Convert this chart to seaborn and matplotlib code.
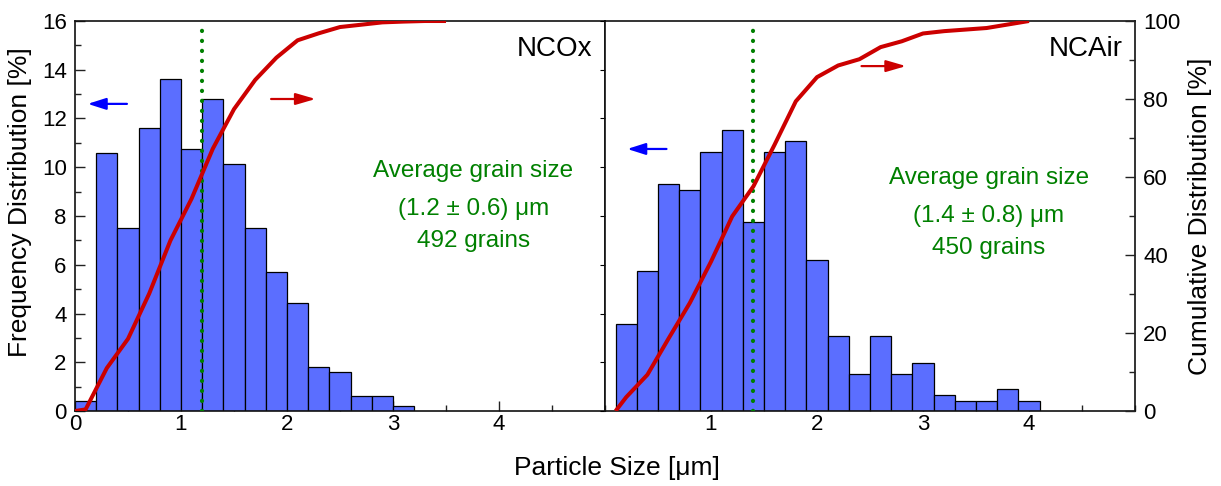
import matplotlib
matplotlib.use("Agg")
import matplotlib.pyplot as plt
from matplotlib.ticker import MultipleLocator
import seaborn as sns

# ---- NCOx: 0.2 um bins starting at 0 ----
ncox_size = [0.1, 0.3, 0.5, 0.7, 0.9, 1.1, 1.3, 1.5, 1.7, 1.9, 2.1, 2.3, 2.5, 2.7, 2.9, 3.1]
ncox_freq = [0.4, 10.6, 7.5, 11.6, 13.6, 10.75, 12.8, 10.15, 7.5, 5.7, 4.45, 1.8, 1.6, 0.6, 0.6, 0.2]
ncox_cum_x = [0.0, 0.1, 0.3, 0.5, 0.7, 0.9, 1.1, 1.3, 1.5, 1.7, 1.9, 2.1, 2.3, 2.5, 2.7,
              2.9, 3.1, 3.3, 3.5]
ncox_cum = [0, 0.4, 11.0, 18.5, 30.1, 43.7, 54.45, 67.25, 77.4, 84.9, 90.6, 95.05, 96.85,
            98.45, 99.05, 99.65, 99.85, 100, 100]
ncox_mean = 1.2

# ---- NCAir: 0.2 um bins starting at 0.1 ----
ncair_size = [0.2, 0.4, 0.6, 0.8, 1.0, 1.2, 1.4, 1.6, 1.8, 2.0, 2.2, 2.4, 2.6, 2.8, 3.0,
              3.2, 3.4, 3.6, 3.8, 4.0]
ncair_freq = [3.55, 5.75, 9.32, 9.08, 10.64, 11.53, 7.76, 10.64, 11.08, 6.20, 3.09, 1.53,
              3.09, 1.53, 1.98, 0.64, 0.41, 0.41, 0.89, 0.41]
ncair_cum_x = [0.1, 0.2, 0.4, 0.6, 0.8, 1.0, 1.2, 1.4, 1.6, 1.8, 2.0, 2.2, 2.4, 2.6, 2.8,
               3.0, 3.2, 3.4, 3.6, 3.8, 4.0]
ncair_cum = [0, 3.55, 9.3, 18.6, 27.7, 38.3, 49.9, 57.6, 68.3, 79.4, 85.6, 88.6, 90.2,
             93.3, 94.8, 96.8, 97.4, 97.8, 98.2, 99.1, 100]
ncair_mean = 1.4

x_ticks_left = [0, 1, 2, 3, 4]
x_ticks_right = [1, 2, 3, 4]

sns.set_style("ticks")
plt.rcParams["font.family"] = ["Liberation Sans", "DejaVu Sans"]
for key in ("text.color", "axes.labelcolor", "xtick.color", "ytick.color",
            "xtick.labelcolor", "ytick.labelcolor"):
    plt.rcParams[key] = "black"

BAR = "#5B6EFF"
RED = "#CC0000"
GREEN = "#008000"
TICK_FS = 16
LABEL_FS = 19

fig = plt.figure(figsize=(12.21, 4.86), dpi=100)
W, H = 1221, 486
x0, x_mid, x1 = 75, 605, 1135
y_top, y_bot = 21, 411
ax1 = fig.add_axes([x0 / W, 1 - y_bot / H, (x_mid - x0) / W, (y_bot - y_top) / H])
ax2 = fig.add_axes([x_mid / W, 1 - y_bot / H, (x1 - x_mid) / W, (y_bot - y_top) / H])


def panel(ax, size, freq, start, stop, cum_x, cum, mean, name, info, xticks,
          text_x, text_ys, blue_arrow, red_arrow, left_axis):
    sns.histplot(x=size, weights=freq, binwidth=0.2, binrange=(start, stop), ax=ax,
                 color=BAR, edgecolor="black", linewidth=0.9, alpha=1.0, zorder=2)
    ax.set_xlim(0, 5)
    ax.set_ylim(0, 16)
    ax.set_xlabel("")
    ax.set_ylabel("")
    ax.axvline(mean, color=GREEN, lw=3.0, linestyle=(0, (0.05, 2.35)),
               dash_capstyle="round", zorder=4)
    ax.set_xticks(xticks)
    ax.xaxis.set_minor_locator(MultipleLocator(0.5))
    ax.tick_params(axis="x", which="both", direction="in", top=False, bottom=True,
                   labelsize=TICK_FS, pad=2, width=1.0, color="#222222")
    ax.tick_params(axis="x", which="major", length=7)
    ax.tick_params(axis="x", which="minor", length=4)
    if left_axis:
        ax.set_yticks(range(0, 17, 2))
        ax.yaxis.set_minor_locator(MultipleLocator(1))
        ax.tick_params(axis="y", which="both", direction="in", left=True, right=False,
                       labelsize=TICK_FS, pad=6, width=1.0, color="#222222")
        ax.tick_params(axis="y", which="major", length=7)
        ax.tick_params(axis="y", which="minor", length=4)
    else:
        ax.tick_params(axis="y", which="both", left=False, right=False, labelleft=False)
    for sp in ax.spines.values():
        sp.set_visible(True)
        sp.set_linewidth(1.2)
        sp.set_color("#111111")

    ax.text(4.88, 14.85, name, ha="right", va="center", fontsize=20, color="black")
    for t, ty in zip(info, text_ys):
        ax.text(text_x, ty, t, ha="center", va="center", fontsize=17.5, color=GREEN)

    ax.annotate("", xy=blue_arrow[0], xytext=blue_arrow[1],
                arrowprops=dict(arrowstyle="-|>,head_length=1.1,head_width=0.35",
                                color="blue", lw=1.6, mutation_scale=10,
                                shrinkA=0, shrinkB=0))
    ax.annotate("", xy=red_arrow[0], xytext=red_arrow[1],
                arrowprops=dict(arrowstyle="-|>,head_length=1.2,head_width=0.35",
                                color=RED, lw=1.6, mutation_scale=10,
                                shrinkA=0, shrinkB=0))

    axt = ax.twinx()
    sns.lineplot(x=cum_x, y=cum, ax=axt, color=RED, lw=2.9, sort=False,
                 solid_joinstyle="round", solid_capstyle="butt")
    axt.set_ylim(0, 100)
    axt.set_xlim(0, 5)
    axt.set_ylabel("")
    for sp in axt.spines.values():
        sp.set_visible(False)
    return axt


ax1t = panel(ax1, ncox_size, ncox_freq, 0.0, 3.2, ncox_cum_x, ncox_cum, ncox_mean, "NCOx",
             ["Average grain size", "(1.2 ± 0.6) μm", "492 grains"], x_ticks_left,
             3.76, [9.85, 8.29, 6.97],
             ((0.12, 12.6), (0.49, 12.6)), ((2.27, 12.8), (1.85, 12.8)), True)
ax1t.tick_params(axis="y", which="both", right=False, labelright=False)

ax2t = panel(ax2, ncair_size, ncair_freq, 0.1, 4.1, ncair_cum_x, ncair_cum, ncair_mean,
             "NCAir", ["Average grain size", "(1.4 ± 0.8) μm", "450 grains"],
             x_ticks_right, 3.62, [9.56, 8.0, 6.69],
             ((0.21, 10.75), (0.58, 10.75)), ((2.84, 14.15), (2.42, 14.15)), False)
ax2t.set_yticks(range(0, 101, 20))
ax2t.yaxis.set_minor_locator(MultipleLocator(10))
ax2t.tick_params(axis="y", which="both", direction="in", right=True, left=False,
                 labelright=True, labelsize=TICK_FS, pad=6, width=1.0, color="#222222")
ax2t.tick_params(axis="y", which="major", length=7)
ax2t.tick_params(axis="y", which="minor", length=4)

ax1.set_ylabel("Frequency Distribution [%]", fontsize=LABEL_FS)
ax1.yaxis.set_label_coords(-0.081, 0.535)
ax2t.set_ylabel("Cumulative Distribution [%]", fontsize=LABEL_FS)
ax2t.yaxis.set_label_position("right")
ax2t.yaxis.set_label_coords(1.1, 0.5)

fig.text(617 / W, 1 - 468 / H, "Particle Size [μm]", ha="center", va="center",
         fontsize=LABEL_FS)

fig.savefig("out.png", dpi=100)
